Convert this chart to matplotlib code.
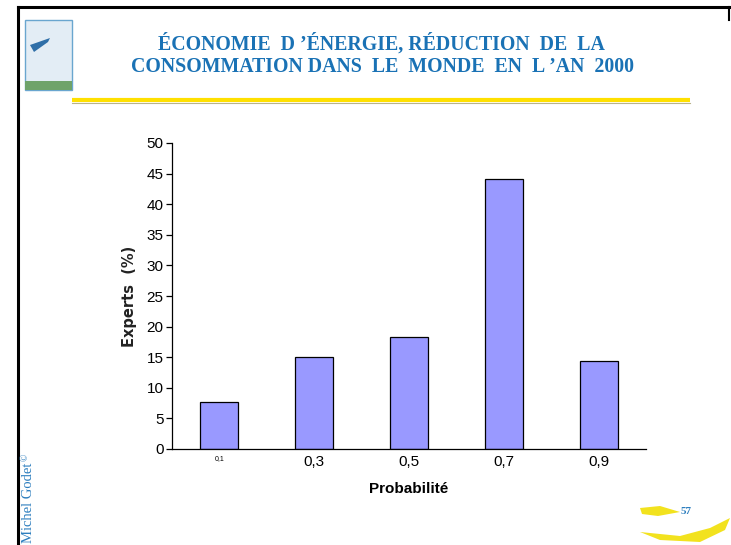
import matplotlib
matplotlib.use("Agg")
import matplotlib.pyplot as plt
from matplotlib.patches import Rectangle, Polygon
from matplotlib.lines import Line2D

categories = ["0,1", "0,3", "0,5", "0,7", "0,9"]
experts = [7.6, 15.0, 18.3, 44.1, 14.4]
yticks = [0, 5, 10, 15, 20, 25, 30, 35, 40, 45, 50]

title_lines = ["ÉCONOMIE  D \u2019ÉNERGIE, RÉDUCTION  DE  LA",
               "CONSOMMATION DANS  LE  MONDE  EN  L \u2019AN  2000"]

W, H = 731, 545
fig = plt.figure(figsize=(W / 100, H / 100), dpi=100)
fig.patch.set_facecolor("white")

def fx(px):
    return px / W

def fy(py):
    return 1 - py / H

# page frame
fig.add_artist(Line2D([fx(18), fx(729)], [fy(7), fy(7)], color="black", lw=2.2))
fig.add_artist(Line2D([fx(18), fx(18)], [fy(7), fy(545)], color="black", lw=2.2))
fig.add_artist(Line2D([fx(729), fx(729)], [fy(7), fy(20)], color="black", lw=1.5))

# logo
fig.add_artist(Rectangle((fx(25), fy(90)), fx(47), 70 / H, facecolor="#e3edf5",
                         edgecolor="#6aa6cf", lw=1.0))
fig.add_artist(Rectangle((fx(25), fy(90)), fx(47), 9 / H, facecolor="#6fa36a",
                         edgecolor="none"))
fig.add_artist(Polygon([[fx(30), fy(45)], [fx(50), fy(38)], [fx(48), fy(42)],
                        [fx(34), fy(52)]], closed=True, facecolor="#2f6fa8",
                       edgecolor="none"))

# title
title_color = "#1a72b5"
fig.text(fx(381), fy(50), title_lines[0], ha="center", va="baseline",
         fontsize=14.3, fontweight="bold", family="Liberation Serif", color=title_color)
fig.text(fx(383), fy(72), title_lines[1], ha="center", va="baseline",
         fontsize=14.3, fontweight="bold", family="Liberation Serif", color=title_color)

# yellow rule
fig.add_artist(Line2D([fx(72), fx(690)], [fy(100), fy(100)], color="#ffe000", lw=3.0,
                      solid_capstyle="butt"))
fig.add_artist(Line2D([fx(72), fx(690)], [fy(102.5), fy(102.5)], color="#b8b38a", lw=0.8))

# side credit
fig.text(fx(29), fy(503), "Michel Godet", rotation=90, ha="center", va="center",
         fontsize=10.5, family="Liberation Serif", color="#2e7fbf")
fig.text(fx(25), fy(457), "\u00a9", rotation=90, ha="center", va="center",
         fontsize=7, family="Liberation Serif", color="#2e7fbf")

# footer swooshes and page number
fig.add_artist(Polygon([[fx(640), fy(508)], [fx(660), fy(506)], [fx(680), fy(512)],
                        [fx(658), fy(516)], [fx(642), fy(514)]], closed=True,
                       facecolor="#f2e21e", edgecolor="none"))
fig.add_artist(Polygon([[fx(640), fy(532)], [fx(680), fy(536)], [fx(710), fy(528)],
                        [fx(730), fy(518)], [fx(725), fy(530)], [fx(700), fy(542)],
                        [fx(660), fy(540)]], closed=True,
                       facecolor="#f2e21e", edgecolor="none"))
fig.text(fx(686), fy(512), "57", ha="center", va="center", fontsize=8,
         fontweight="bold", family="Liberation Serif", color="#2e7fbf")

# chart
ax = fig.add_axes([fx(172), fy(449), fx(646) - fx(172), (449 - 143) / H])
x = list(range(len(categories)))
ax.bar(x, experts, width=0.4, color="#9999ff", edgecolor="black", linewidth=0.9)
ax.set_xlim(-0.5, len(categories) - 0.5)
ax.set_ylim(0, 50)
ax.set_yticks(yticks)
ax.set_yticklabels([str(v) for v in yticks], fontsize=11, family="Liberation Sans")
ax.set_xticks(x)
ax.set_xticklabels(categories, fontsize=11, family="Liberation Sans")
ax.get_xticklabels()[0].set_fontsize(5)
ax.tick_params(axis="x", length=0, pad=4)
ax.tick_params(axis="y", length=4, width=0.9, pad=2, direction="out")
for s in ["top", "right"]:
    ax.spines[s].set_visible(False)
ax.spines["left"].set_linewidth(0.9)
ax.spines["bottom"].set_linewidth(0.9)
ax.set_xlabel("Probabilité", fontsize=11, fontweight="bold", family="Liberation Sans",
              labelpad=10)
ax.set_ylabel("Experts  (%)", fontsize=10.5, fontweight="bold", family="DejaVu Sans",
              labelpad=7, color="#222222")

fig.savefig("out.png", dpi=100)
